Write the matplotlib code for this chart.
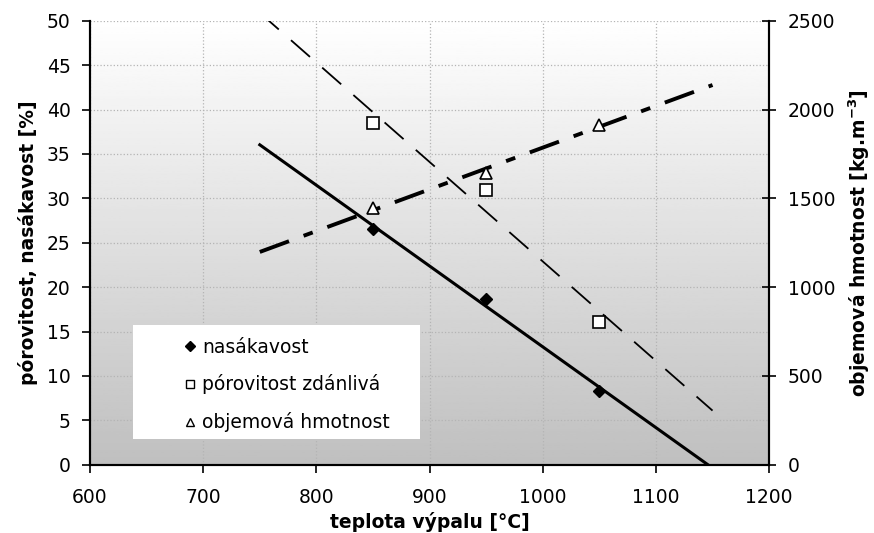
import numpy as np
import matplotlib
matplotlib.use('Agg')
import matplotlib.pyplot as plt
from matplotlib.lines import Line2D
from matplotlib.patches import Rectangle

plt.rcParams['font.family'] = ['DejaVu Sans']

# ── Data ──────────────────────────────────────────────────
teplota       = [850, 950, 1050]
nasakavost    = [26.5, 18.7, 8.3]       # %
porovitost    = [38.5, 30.9, 16.1]      # %
objem_hmot    = [1445, 1645, 1915]      # kg.m-3
trend_x       = [750, 1150]
labels        = ['nasákavost', 'pórovitost zdánlivá', 'objemová hmotnost']

FS = 13.5

# linear trends through the points
def trend(y):
    k, q = np.polyfit(teplota, y, 1)
    xs = np.array(trend_x, dtype=float)
    return xs, k * xs + q

fig = plt.figure(figsize=(8.74, 5.33), dpi=100)
ax = fig.add_axes([0.103, 0.128, 0.777, 0.833])
ax2 = ax.twinx()

# gradient background
grad = np.linspace(1.0, 0.75, 256).reshape(-1, 1)
ax.imshow(grad, cmap='gray', vmin=0, vmax=1, aspect='auto',
          extent=[600, 1200, 0, 50], zorder=0)

ax.set_xlim(600, 1200)
ax.set_ylim(0, 50)
ax2.set_ylim(0, 2500)
ax.set_xticks(range(600, 1201, 100))
ax.set_yticks(range(0, 51, 5))
ax2.set_yticks(range(0, 2501, 500))
ax.grid(True, color='#b4b4b4', linestyle=':', linewidth=0.9, zorder=1)

# trend lines
x, y = trend(nasakavost)
ax.plot(x, y, color='black', lw=2.2, zorder=3)
x, y = trend(porovitost)
ax.plot(x, y, color='black', lw=1.3, dashes=(14, 9), zorder=3)
x, y = trend(objem_hmot)
ax2.plot(x, y, color='black', lw=2.8, dashes=(8, 4, 2.5, 4), zorder=3)

# points
ax.plot(teplota, nasakavost, 'D', color='black', ms=6, zorder=4)
ax.plot(teplota, porovitost, 's', mfc='white', mec='black', mew=1.2, ms=8, zorder=4)
ax2.plot(teplota, objem_hmot, '^', mfc='white', mec='black', mew=1.2, ms=9, zorder=4)

for a in (ax, ax2):
    a.spines['top'].set_visible(False)
    for s in ('left', 'bottom', 'right'):
        a.spines[s].set_linewidth(1.5)
ax.tick_params(axis='both', labelsize=FS, direction='out', length=6, width=1.2)
ax.tick_params(axis='x', pad=11)
ax.tick_params(axis='y', pad=8)
ax2.tick_params(axis='y', labelsize=FS, direction='inout', length=10, width=1.2, pad=8.5)

ax.set_xlabel('teplota výpalu [°C]', fontsize=FS, fontweight='bold', labelpad=3.5)
ax.set_ylabel('pórovitost, nasákavost [%]', fontsize=FS, fontweight='bold', labelpad=6)
ax2.set_ylabel(r'objemová hmotnost [kg.m$^{\mathbf{-3}}$]', fontsize=FS,
               fontweight='bold', labelpad=8)

# legend: white box, markers close to text
ax2.add_patch(Rectangle((0.063, 0.059), 0.423, 0.256, transform=ax2.transAxes,
                        facecolor='white', edgecolor='none', zorder=5))
handles = [
    Line2D([], [], ls='', marker='D', color='black', ms=5),
    Line2D([], [], ls='', marker='s', mfc='white', mec='black', ms=6),
    Line2D([], [], ls='', marker='^', mfc='white', mec='black', ms=6),
]
leg = ax2.legend(handles, labels, loc='center left', bbox_to_anchor=(0.137, 0.18),
                 fontsize=FS, frameon=False, handlelength=0.7, handletextpad=0.3,
                 labelspacing=0.95, borderpad=0, borderaxespad=0)
leg.set_zorder(6)

fig.savefig('out.png', dpi=100)
